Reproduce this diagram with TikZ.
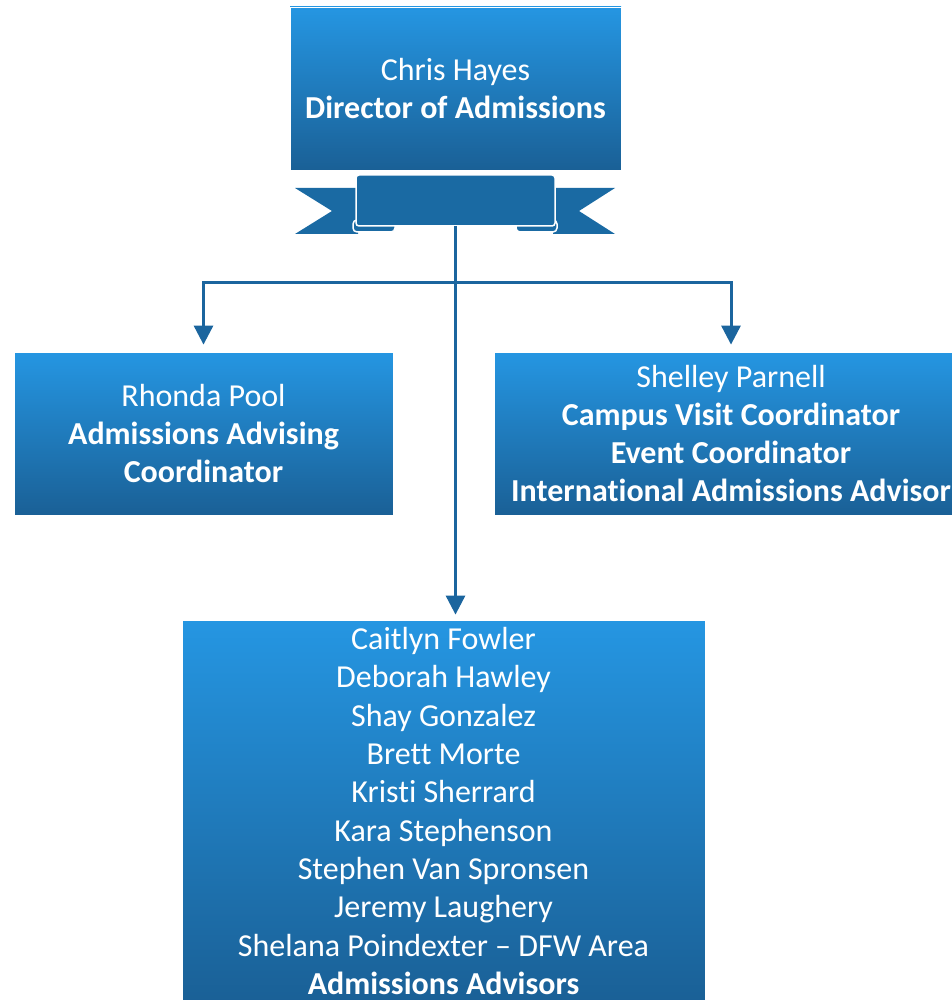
\documentclass[tikz,border=0pt]{standalone}
\usepackage{fontspec}
\setmainfont{Carlito}[Ligatures=NoCommon]
\usetikzlibrary{arrows.meta}
\definecolor{boxtop}{RGB}{37,150,226}
\definecolor{boxbot}{RGB}{26,96,150}
\definecolor{ribbonblue}{RGB}{26,106,163}
\definecolor{lineblue}{RGB}{27,101,158}
\begin{document}
\begin{tikzpicture}[x=1pt,y=-1pt,
    orgbox/.style={top color=boxtop,bottom color=boxbot,draw=white,line width=0.8pt,
      text=white,align=center,inner sep=0pt,font=\fontsize{32}{38.3}\selectfont},
    wire/.style={lineblue,line width=3pt},
    link/.style={wire,-{Triangle[width=19pt,length=19pt]}},
    ribbonpart/.style={fill=ribbonblue,draw=white,line width=1.5pt}]
    \useasboundingbox (0,0) rectangle (951,1000);
    % boxes
    \node[orgbox,minimum width=331pt,minimum height=163pt] (director) at (455.5,88.5)
        {Chris Hayes\\\textbf{Director of Admissions}};
    \node[orgbox,minimum width=379pt,minimum height=163pt] (rhonda) at (203.5,433.5)
        {Rhonda Pool\\\textbf{Admissions Advising}\\\textbf{Coordinator}};
    \node[orgbox,minimum width=474pt,minimum height=163pt] (shelley) at (731,433.5)
        {Shelley Parnell\\\textbf{Campus Visit Coordinator}\\\textbf{Event Coordinator}\\\textbf{International Admissions Advisor}};
    \node[orgbox,minimum width=523pt,minimum height=382pt] (advisors) at (443.5,811)
        {Caitlyn Fowler\\Deborah Hawley\\Shay Gonzalez\\Brett Morte\\Kristi Sherrard\\
         Kara Stephenson\\Stephen Van Spronsen\\Jeremy Laughery\\
         Shelana Poindexter -- DFW Area\\\textbf{Admissions Advisors}};
    % ribbon
    \fill[ribbonblue] (295,188) -- (358,188) -- (358,234) -- (295,234) -- (332,211) -- cycle;
    \fill[ribbonblue] (615,188) -- (553,188) -- (553,234) -- (615,234) -- (579,211) -- cycle;
    \draw[ribbonpart,rounded corners=4pt] (353,220) rectangle (395,232);
    \draw[ribbonpart,rounded corners=4pt] (516,220) rectangle (557,232);
    \draw[ribbonpart,rounded corners=3pt] (356,175) rectangle (555,226);
    \coordinate (ribbon) at (455.5,226);
    \coordinate (branch) at (455.5,282);
    % connectors
    \draw[link,shorten >=5pt] (ribbon) -- (ribbon |- advisors.north);
    \draw[link,shorten >=7pt] (branch) -| (rhonda.north);
    \draw[link,shorten >=7pt] (branch) -| (shelley.north);
\end{tikzpicture}
\end{document}
